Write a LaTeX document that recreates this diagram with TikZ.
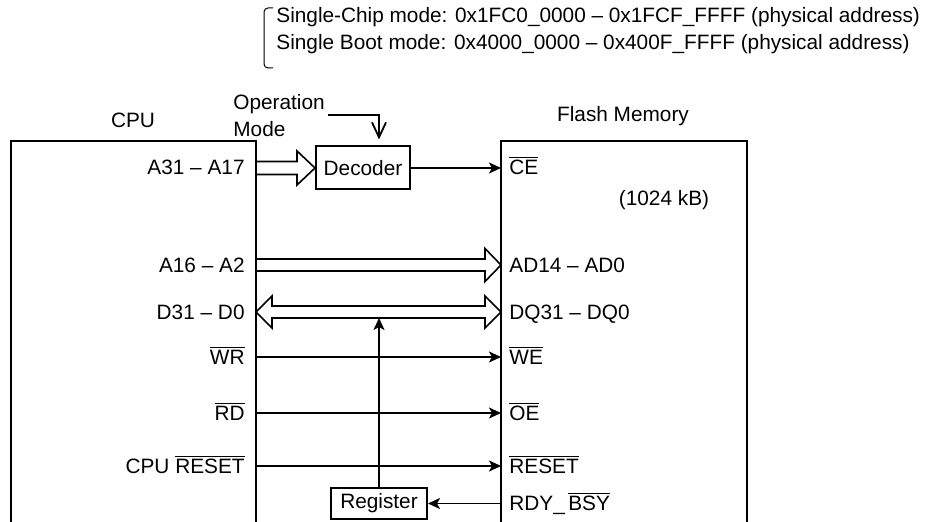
\documentclass[tikz,border=0pt]{standalone}
\usepackage{fontspec}
\setmainfont{Liberation Sans}
\usepackage{tikz}
\usetikzlibrary{arrows.meta,calc}
\tikzset{
  every picture/.style={font=\fontsize{10.4}{13.5}\selectfont, >=Stealth},
  chip/.style={line width=1pt},
  block/.style={draw, line width=1pt, inner sep=0pt},
  sig/.style={line width=0.9pt, -{Stealth[length=6pt,width=5.5pt,inset=1.5pt]}},
  bus/.style={line width=0.8pt},
  pinl/.style={anchor=base east, inner sep=0pt},
  pinr/.style={anchor=base west, inner sep=0pt},
}
\newcommand{\neglbl}[1]{$\overline{\mbox{#1}}$}

\begin{document}
\begin{tikzpicture}[x=0.5pt,y=-0.5pt]
\useasboundingbox (0,0) rectangle (936,522);
% address ranges
\node[anchor=west, align=left, inner sep=0pt] (modes) at (276,31) {Single-Chip mode: 0x1FC0\_0000 \textendash{} 0x1FCF\_FFFF (physical address)\\Single Boot mode: 0x4000\_0000 \textendash{} 0x400F\_FFFF (physical address)};
\draw[line width=0.5pt, rounded corners=2pt] (273,8) -| (264,68) -- (273,68);
% chips, open at the bottom
\draw[chip] (11,522) |- (256,141) -- (256,522);
\draw[chip] (501,522) |- (747,141) -- (747,522);
\node[anchor=base] (cpu) at (133,128) {CPU};
\node[anchor=base] (flash) at (623,122) {Flash Memory};
\node[anchor=west, align=left, inner sep=0pt] (opmode) at (233,116) {Operation\\Mode};
\node[block, minimum width=47pt, minimum height=21.5pt] (decoder) at (363,168) {Decoder};
\node[block, minimum width=48pt, minimum height=15.5pt] (register) at (379,503.5) {Register};
\node (size) at (664,200) {(1024 kB)};
% CPU pins
\node[pinl] (a31) at (245,175) {A31 \textendash{} A17};
\node[pinl] (a16) at (245,272.5) {A16 \textendash{} A2};
\node[pinl] (d31) at (245,319.5) {D31 \textendash{} D0};
\node[pinl] (wr) at (245,365) {\neglbl{WR}};
\node[pinl] (rd) at (245,421) {\neglbl{RD}};
\node[pinl] (cpurst) at (245,474) {CPU \neglbl{RESET}};
% flash pins
\node[pinr] (ce) at (509,175) {\neglbl{CE}};
\node[pinr] (ad14) at (509,272.5) {AD14 \textendash{} AD0};
\node[pinr] (dq31) at (509,319.5) {DQ31 \textendash{} DQ0};
\node[pinr] (we) at (509,365) {\neglbl{WE}};
\node[pinr] (oe) at (509,421) {\neglbl{OE}};
\node[pinr] (rst) at (509,474) {\neglbl{RESET}};
\node[pinr] (rdy) at (509,511) {RDY\_\,\neglbl{BSY}};
% pin points on the chip edges
\coordinate (cpu-a31) at (256,168);
\coordinate (cpu-a16) at (256,265);
\coordinate (cpu-d31) at (256,312);
\coordinate (cpu-wr) at (256,357);
\coordinate (cpu-rd) at (256,413);
\coordinate (cpu-rst) at (256,466);
\coordinate (fl-ce) at (501,168);
\coordinate (fl-ad) at (501,265);
\coordinate (fl-dq) at (501,312);
\coordinate (fl-we) at (501,357);
\coordinate (fl-oe) at (501,413);
\coordinate (fl-rst) at (501,466);
\coordinate (fl-rdy) at (501,503.5);
\coordinate (op-in) at (328,115);
\coordinate (db-low) at (379,318);
% buses
\draw[bus] (cpu-a31) ++(0,-6.5) -- ($(decoder.west)+(-18,-6.5)$) -- ++(0,-10.5) -- (decoder.west) -- ++(-18,17) -- ++(0,-10.5) -- ($(cpu-a31)+(0,6.5)$);
\draw[bus] (cpu-a16) ++(0,-6) -- ($(fl-ad)+(-16,-6)$) -- ++(0,-10.5) -- (fl-ad) -- ++(-16,16.5) -- ++(0,-10.5) -- ($(cpu-a16)+(0,6)$);
\draw[bus] (cpu-d31) -- ++(16,-16) -- ++(0,10) -- ($(fl-dq)+(-16,-6)$) -- ++(0,-10) -- (fl-dq) -- ++(-16,16) -- ++(0,-10) -- ($(cpu-d31)+(16,6)$) -- ++(0,10) -- cycle;
% signals
\draw[line width=0.9pt, -{Straight Barb[length=7.5pt,width=7pt]}] (op-in) -| ($(decoder.north)+(16,-6)$);
\draw[sig] (decoder.east) -- (fl-ce);
\draw[sig] (cpu-wr) -- (fl-we);
\draw[sig] (cpu-rd) -- (fl-oe);
\draw[sig] (cpu-rst) -- (fl-rst);
\draw[sig] (register.north) -- (db-low);
\draw[sig] (fl-rdy) -- (register.east);
\end{tikzpicture}
\end{document}
